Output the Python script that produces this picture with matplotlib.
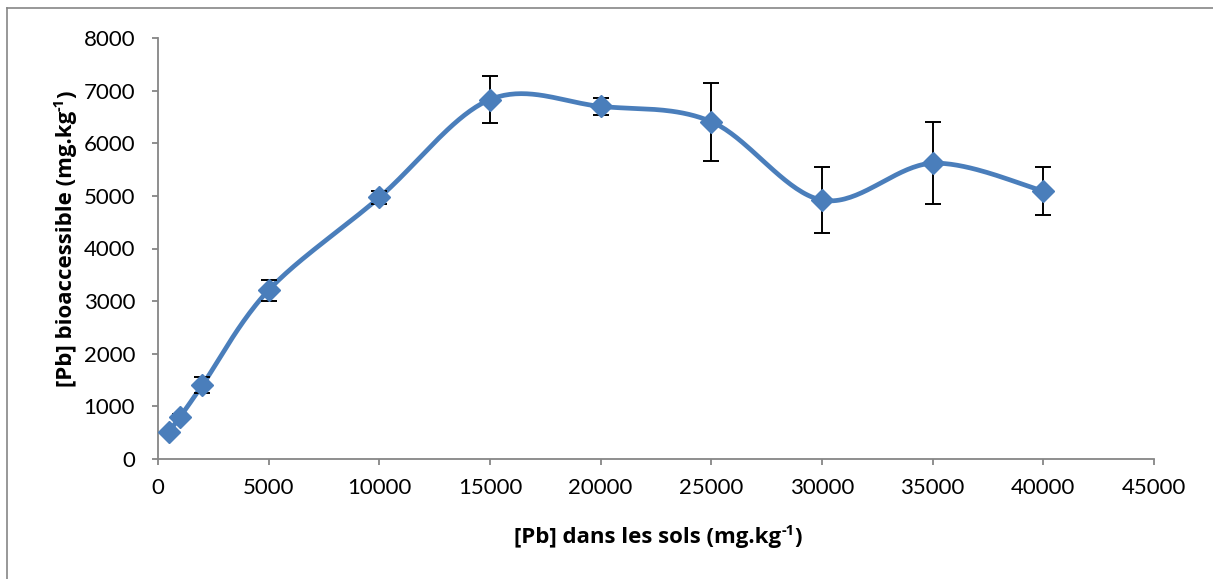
import numpy as np
import matplotlib
matplotlib.use("Agg")
import matplotlib.pyplot as plt
from matplotlib.lines import Line2D

x_soil = [500, 1000, 2000, 5000, 10000, 15000, 20000, 25000, 30000, 35000, 40000]
pb_bio = [520, 800, 1400, 3210, 4970, 6830, 6700, 6410, 4920, 5620, 5090]
pb_err = [30, 60, 150, 200, 130, 450, 160, 740, 630, 780, 450]

x_ticks = [0, 5000, 10000, 15000, 20000, 25000, 30000, 35000, 40000, 45000]
y_ticks = [0, 1000, 2000, 3000, 4000, 5000, 6000, 7000, 8000]

x_label = ("[Pb] dans les sols (mg.kg", "-1", ")")
y_label = ("[Pb] bioaccessible (mg.kg", "-1", ")")

plt.rcParams['font.family'] = ['Lato', 'DejaVu Sans']
LABEL_FAMILY = ['Open Sans', 'DejaVu Sans']

W, H = 1213, 579
fig = plt.figure(figsize=(W / 100, H / 100), dpi=100)
ax = fig.add_axes([158 / W, 1 - 459 / H, (1154 - 158) / W, (459 - 38) / H])

ax.set_xlim(0, 45000)
ax.set_ylim(0, 8000)


def excel_smooth(xs, ys, n=40):
    # Catmull-Rom style cubic Bezier in pixel-like space (Excel "smoothed line")
    xs = np.asarray(xs, float)
    ys = np.asarray(ys, float)
    sx = (1154 - 158) / 45000.0
    sy = (459 - 38) / 8000.0
    P = np.column_stack([xs * sx, ys * sy])
    out = []
    m = len(P)
    for i in range(m - 1):
        p0 = P[i - 1] if i > 0 else P[i]
        p1 = P[i]
        p2 = P[i + 1]
        p3 = P[i + 2] if i + 2 < m else P[i + 1]
        c1 = p1 + (p2 - p0) / 6.0
        c2 = p2 - (p3 - p1) / 6.0
        t = np.linspace(0, 1, n)[:, None]
        seg = ((1 - t) ** 3) * p1 + 3 * ((1 - t) ** 2) * t * c1 + 3 * (1 - t) * t ** 2 * c2 + t ** 3 * p2
        if i > 0:
            seg = seg[1:]
        out.append(seg)
    out = np.vstack(out)
    return out[:, 0] / sx, out[:, 1] / sy


blue = '#4A7EBB'
sxs, sys_ = excel_smooth(x_soil, pb_bio)
ax.plot(sxs, sys_, color=blue, lw=3.4, solid_capstyle='round', zorder=2)
ax.errorbar(x_soil, pb_bio, yerr=pb_err, fmt='none', ecolor='black',
            elinewidth=1.4, capsize=6, capthick=1.4, zorder=3)
ax.plot(x_soil, pb_bio, linestyle='none', marker='D', markersize=11.5,
        color=blue, markeredgecolor=blue, zorder=4)

ax.set_xticks(x_ticks)
ax.set_yticks(y_ticks)
ax.tick_params(axis='both', direction='out', length=4.5, width=1.3,
               color='#868686', labelsize=16, labelcolor='black')
ax.tick_params(axis='x', pad=9)
ax.tick_params(axis='y', pad=12)
for s in ['top', 'right']:
    ax.spines[s].set_visible(False)
for s in ['left', 'bottom']:
    ax.spines[s].set_color('#868686')
    ax.spines[s].set_linewidth(1.3)


def composed_label(parts, along_center, base, size, vertical=False):
    """Main text + small superscript + tail, centred along the text direction.

    Horizontal: along_center = x px, base = baseline y px from top.
    Vertical:   along_center = y px from top, base = baseline x px.
    """
    main, sup, tail = parts
    renderer = fig.canvas.get_renderer()
    kw = dict(fontsize=size, fontweight='bold', family=LABEL_FAMILY)
    skw = dict(fontsize=size * 0.66, fontweight='bold', family=LABEL_FAMILY)
    widths = []
    for txt, k in ((main, kw), (sup, skw), (tail, kw)):
        t = fig.text(0, 0, txt, **k)
        widths.append(t.get_window_extent(renderer).width)
        t.remove()
    total = sum(widths)
    raise_px = size * 100 / 72 * 0.36
    offs = [0, raise_px, 0]
    if not vertical:
        start = along_center - total / 2.0
        pos = [start, start + widths[0], start + widths[0] + widths[1]]
        for txt, k, p, o in zip((main, sup, tail), (kw, skw, kw), pos, offs):
            fig.text(p / W, 1 - (base - o) / H, txt, ha='left', va='baseline', **k)
    else:
        start = (H - along_center) - total / 2.0  # from bottom
        pos = [start, start + widths[0], start + widths[0] + widths[1]]
        for txt, k, p, o in zip((main, sup, tail), (kw, skw, kw), pos, offs):
            fig.text((base - o) / W, p / H, txt, ha='left', va='baseline',
                     rotation=90, rotation_mode='anchor', **k)


composed_label(x_label, 658, 543, 16)
composed_label(y_label, 239, 72, 16, vertical=True)

# outer chart border
fig.add_artist(Line2D([7 / W, 7 / W], [0, 1 - 8 / H], transform=fig.transFigure,
                      color='#868686', lw=1.2))
fig.add_artist(Line2D([7 / W, 1], [1 - 8 / H, 1 - 8 / H], transform=fig.transFigure,
                      color='#868686', lw=1.2))

fig.savefig('out.png', dpi=100)
